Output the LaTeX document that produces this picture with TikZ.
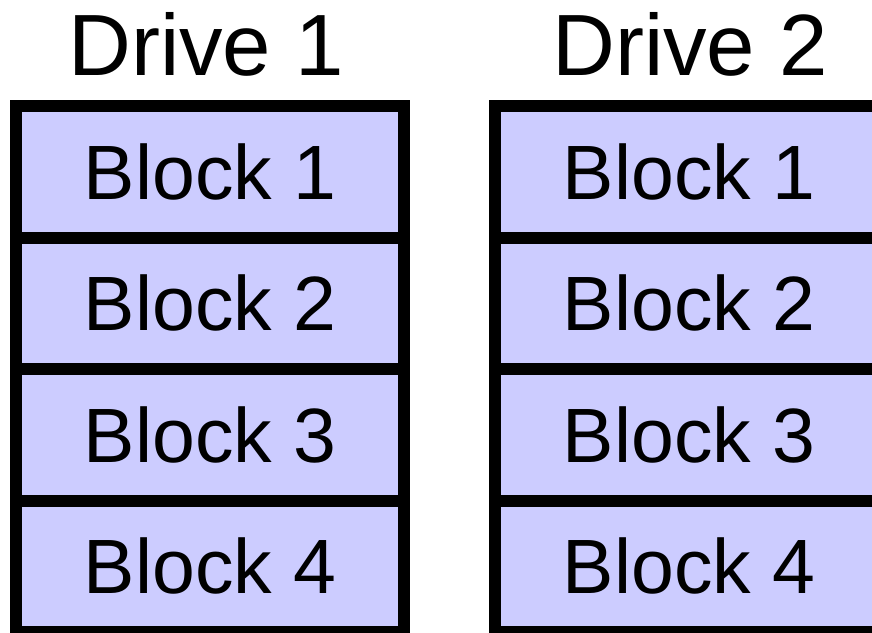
\documentclass[tikz,border=0pt]{standalone}
\usepackage{fontspec}
\setmainfont{Liberation Sans}
\usepackage{tikz}
\definecolor{blockfill}{RGB}{204,204,255}
\tikzstyle{block} = [rectangle, minimum width=388pt, minimum height=131.5pt, text centered, draw=black, line width=12pt, fill=blockfill, font=\fontsize{77}{80}\selectfont]
\tikzstyle{drive} = [anchor=base, inner sep=0pt, font=\fontsize{87}{90}\selectfont]

\begin{document}
\begin{tikzpicture}[x=1pt, y=-1pt, node distance=131.5pt]

        \clip (0,0) rectangle (872,632);

        % Disco 1
        \node (d1b1) [block] at (210,171.75) {Block 1};
        \node (d1b2) [block, below of=d1b1] {Block 2};
        \node (d1b3) [block, below of=d1b2] {Block 3};
        \node (d1b4) [block, below of=d1b3] {Block 4};
        \node (d1) [drive] at (206,75) {Drive 1};

        % Disco 2
        \node (d2b1) [block] at (689,171.75) {Block 1};
        \node (d2b2) [block, below of=d2b1] {Block 2};
        \node (d2b3) [block, below of=d2b2] {Block 3};
        \node (d2b4) [block, below of=d2b3] {Block 4};
        \node (d2) [drive] at (690,75) {Drive 2};

    \end{tikzpicture}
\end{document}
